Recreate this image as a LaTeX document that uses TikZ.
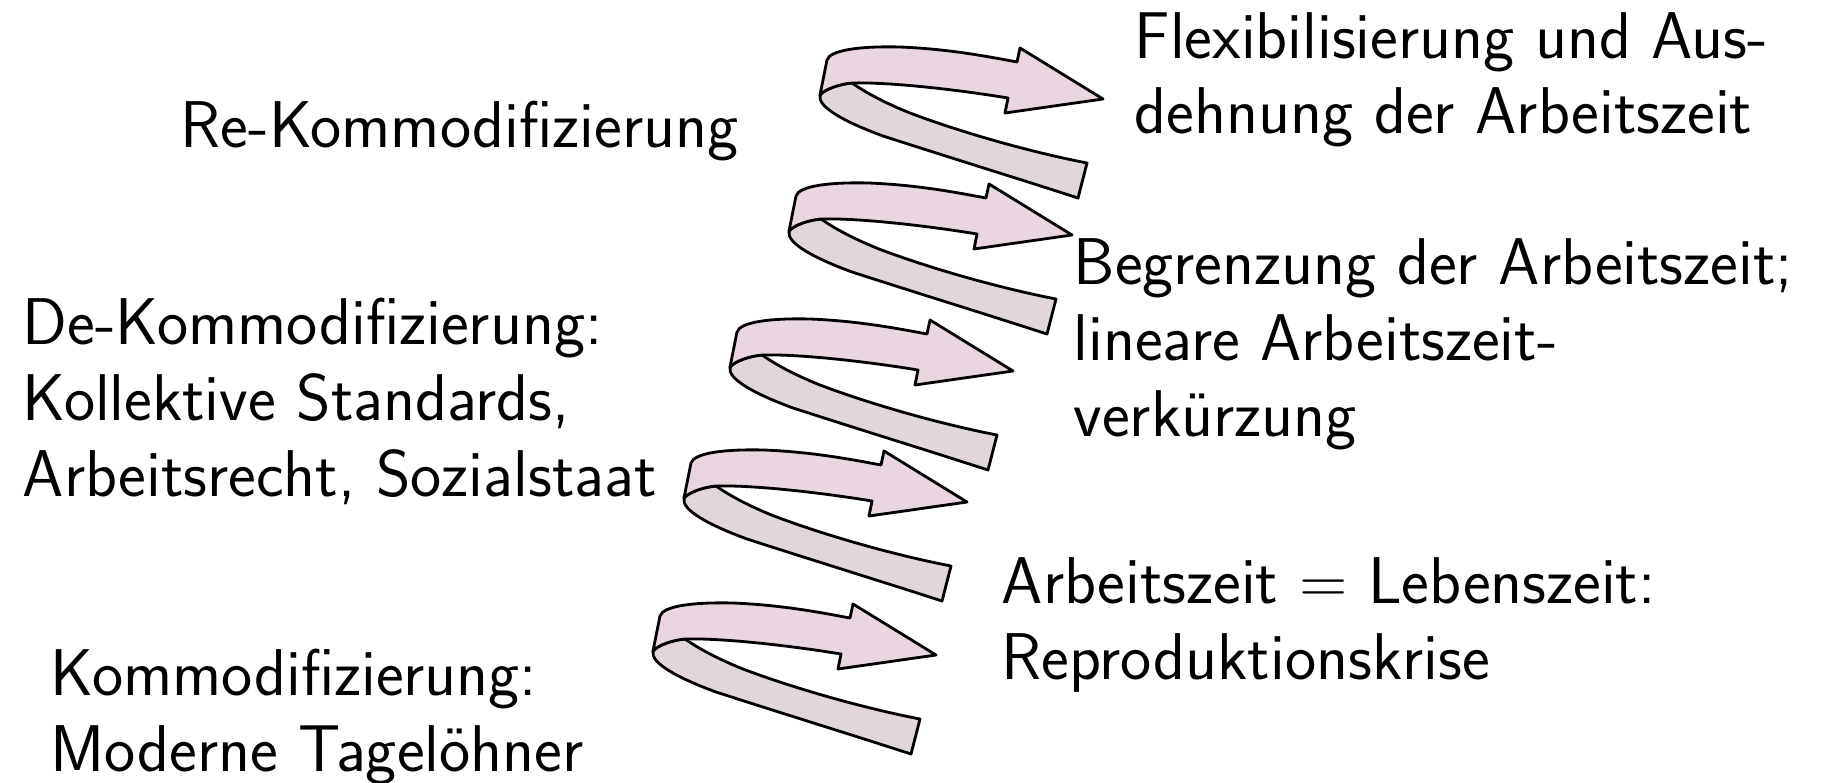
\documentclass[tikz,border=0pt]{standalone}
\usepackage{fontspec}
\usepackage{tikz}
\definecolor{bandfront}{RGB}{233,214,225}
\definecolor{bandback}{RGB}{226,214,221}

\begin{document}
\begin{tikzpicture}[
  x=0.01cm, y=-0.01cm,
  lbl/.style={anchor=base west, align=left, inner sep=0pt, font=\sffamily\fontsize{18.8}{21.5}\selectfont},
  band/.style={draw=black, line width=0.8pt, line join=round},
  pics/ribbon/.style={code={
    % back band (folded part)
    \path[band, fill=bandback] (-283,-4) .. controls (-286,8) and (-258,23) .. (-220,37)
      .. controls (-155,58) and (-90,78) .. (-25,99) -- (-16,64)
      .. controls (-73,53) and (-143,33) .. (-193,14)
      .. controls (-223,2) and (-241,-9) .. (-251,-16)
      .. controls (-263,-15) and (-278,-10) .. (-283,-4) -- cycle;
    % front band with head
    \path[band, fill=bandfront] (-283,-4) -- (-276,-39)
      .. controls (-273,-49) and (-243,-53) .. (-203,-52)
      .. controls (-153,-50) and (-113,-42) .. (-86,-37) -- (-83,-51) -- (0,0)
      -- (-98,14) -- (-95,-1)
      .. controls (-150,-10) and (-215,-17) .. (-251,-16)
      .. controls (-263,-15) and (-278,-10) .. (-283,-4) -- cycle;
  }}
]
\useasboundingbox (0,0) rectangle (1825,782);

% Ribbons
\pic at (1103,99) {ribbon};
\pic at (1072,235) {ribbon};
\pic at (1013,371) {ribbon};
\pic at (967,502) {ribbon};
\pic at (936,655) {ribbon};

% Left labels (anchored at the last line)
\node[lbl] (rekomm) at (180,148) {Re-Kommodifizierung};
\node[lbl] (dekomm) at (22,496) {De-Kommodifizierung:\\Kollektive Standards,\\Arbeitsrecht, Sozialstaat};
\node[lbl] (komm) at (50,771) {Kommodifizierung:\\Moderne Tagelöhner};

% Right labels
\node[lbl] (flex) at (1134,134) {Flexibilisierung und Aus-\\dehnung der Arbeitszeit};
\node[lbl] (begr) at (1073,436) {Begrenzung der Arbeitszeit;\\lineare Arbeitszeit-\\verkürzung};
\node[lbl] (repro) at (1001,679) {Arbeitszeit = Lebenszeit:\\Reproduktionskrise};

\end{tikzpicture}
\end{document}
